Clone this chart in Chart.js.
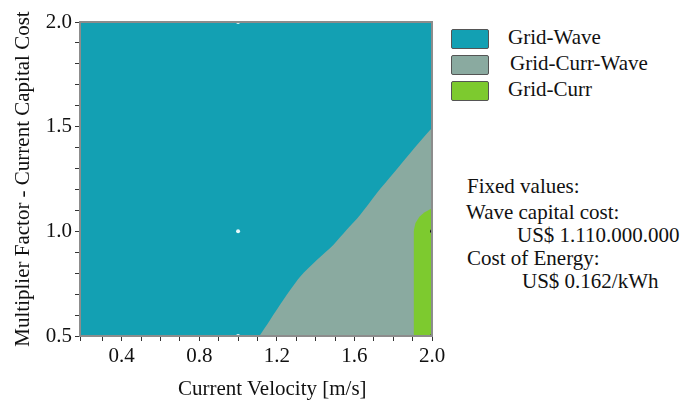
<!DOCTYPE html>
<html>
<head>
<meta charset="utf-8">
<script src="https://cdn.jsdelivr.net/npm/chart.js@4/dist/chart.umd.min.js"></script>
<style>
  body { margin: 0; background: #fff; }
  #wrap { position: relative; width: 683px; height: 402px; overflow: hidden;
          font-family: "Liberation Serif", "DejaVu Serif", serif; color: #111; }
  #chartBox { position: absolute; left: 0; top: 0; width: 450px; height: 402px; }
  .txt { position: absolute; font-size: 21px; line-height: 21px; white-space: nowrap; }
  .swatch { position: absolute; width: 36px; height: 18px; border: 1.5px solid #555; border-radius: 2px; }
</style>
</head>
<body>
<div id="wrap">
  <div id="chartBox"><canvas id="chart" width="450" height="402"></canvas></div>
  <div id="legend"></div>
  <div class="txt" id="xTitle" style="left:178px;top:378px">Current Velocity [m/s]</div>
  <div class="txt" style="left:467px;top:176px">Fixed values:</div>
  <div class="txt" style="left:466px;top:202px">Wave capital cost:</div>
  <div class="txt" style="left:517px;top:225px">US$ 1.110.000.000</div>
  <div class="txt" style="left:467px;top:248px">Cost of Energy:</div>
  <div class="txt" style="left:522px;top:271px">US$ 0.162/kWh</div>
</div>
<script>
// ----------------------------
// DATA
// ----------------------------
const seriesNames = ["Grid-Wave", "Grid-Curr-Wave", "Grid-Curr"];
const seriesColors = ["#13a0b3", "#8aaaa0", "#7dca2f"];

// Grid-Wave covers the whole sensitivity space (top edge)
const waveX = [0.185, 2.0];
const waveY = [2.0, 2.0];

// boundary between Grid-Wave and Grid-Curr-Wave
const currWaveX = [1.11, 1.165, 1.233, 1.32, 1.406, 1.491, 1.56, 1.629, 1.715, 1.801, 1.887, 1.99, 2.0];
const currWaveY = [0.5, 0.577, 0.672, 0.783, 0.863, 0.935, 1.007, 1.078, 1.182, 1.277, 1.373, 1.484, 1.49];

// Grid-Curr corner region
const currX = [1.905, 1.905, 1.915, 1.935, 1.96, 2.0];
const currY = [0.5, 1.0, 1.04, 1.07, 1.09, 1.11];

// sensitivity markers
const markerX = [1.0, 1.0, 1.0, 2.0, 2.0];
const markerY = [1.0, 2.0, 0.5, 1.0, 0.5];

const xLabelTicks = [0.4, 0.8, 1.2, 1.6, 2.0];
const yLabelTicks = [0.5, 1.0, 1.5, 2.0];

const toPoints = (xs, ys) => xs.map((x, i) => ({ x: x, y: ys[i] }));

// ----------------------------
// LEGEND (html)
// ----------------------------
const legend = document.getElementById("legend");
seriesNames.forEach((name, i) => {
    const sw = document.createElement("div");
    sw.className = "swatch";
    sw.style.left = "451px";
    sw.style.top = (29 + i * 26) + "px";
    sw.style.background = seriesColors[i];
    legend.appendChild(sw);

    const t = document.createElement("div");
    t.className = "txt";
    t.style.left = (i === 1 ? 510 : 508) + "px";
    t.style.top = (27 + i * 26) + "px";
    t.textContent = name;
    legend.appendChild(t);
});

// ----------------------------
// FRAME AROUND PLOT
// ----------------------------
const framePlugin = {
    id: "frame",
    afterDatasetsDraw(chart) {
        const { ctx, chartArea: a } = chart;
        ctx.save();
        ctx.strokeStyle = "#8c8c8c";
        ctx.lineWidth = 2;
        ctx.strokeRect(a.left, a.top, a.right - a.left, a.bottom - a.top);
        ctx.restore();
    }
};

const serif = "'Liberation Serif', 'DejaVu Serif', serif";
const near = (v, list) => list.some(t => Math.abs(v - t) < 1e-6);

new Chart(document.getElementById("chart").getContext("2d"), {
    type: "line",
    data: {
        datasets: [
            {
                label: "markers",
                type: "scatter",
                data: toPoints(markerX, markerY),
                pointRadius: 2,
                pointBackgroundColor: ["#e8f8fa", "#e8f8fa", "#e8f8fa", "#111", "#111"],
                pointBorderWidth: 0,
                order: 0
            },
            {
                label: seriesNames[2],
                data: toPoints(currX, currY),
                backgroundColor: seriesColors[2],
                borderColor: seriesColors[2],
                borderWidth: 0,
                pointRadius: 0,
                fill: "start",
                tension: 0,
                order: 1
            },
            {
                label: seriesNames[1],
                data: toPoints(currWaveX, currWaveY),
                backgroundColor: seriesColors[1],
                borderColor: seriesColors[1],
                borderWidth: 0,
                pointRadius: 0,
                fill: "start",
                tension: 0.3,
                order: 2
            },
            {
                label: seriesNames[0],
                data: toPoints(waveX, waveY),
                backgroundColor: seriesColors[0],
                borderColor: seriesColors[0],
                borderWidth: 0,
                pointRadius: 0,
                fill: "start",
                order: 3
            }
        ]
    },
    options: {
        responsive: false,
        animation: false,
        layout: { padding: { top: 22, right: 18, left: 0, bottom: 0 } },
        plugins: {
            legend: { display: false },
            tooltip: { enabled: false }
        },
        scales: {
            x: {
                type: "linear",
                min: 0.185,
                max: 2.0,
                afterFit: s => { s.height = 66; },
                border: { color: "#8c8c8c", width: 2 },
                grid: { drawOnChartArea: false, tickLength: 5, color: "#333" },
                ticks: {
                    stepSize: 0.1,
                    autoSkip: false,
                    maxRotation: 0,
                    color: "#111",
                    font: { family: serif, size: 21 },
                    callback: v => near(v, xLabelTicks) ? v.toFixed(1) : ""
                }
            },
            y: {
                type: "linear",
                min: 0.5,
                max: 2.0,
                afterFit: s => { s.width = 80; },
                border: { color: "#8c8c8c", width: 2 },
                grid: { drawOnChartArea: false, tickLength: 5, color: "#333" },
                title: {
                    display: true,
                    text: "Multiplier Factor - Current Capital Cost",
                    color: "#111",
                    font: { family: serif, size: 21 },
                    padding: { top: 11, bottom: 0 }
                },
                ticks: {
                    stepSize: 0.1,
                    autoSkip: false,
                    color: "#111",
                    font: { family: serif, size: 21 },
                    callback: v => near(v, yLabelTicks) ? v.toFixed(1) : ""
                }
            }
        }
    },
    plugins: [framePlugin]
});
</script>
</body>
</html>
